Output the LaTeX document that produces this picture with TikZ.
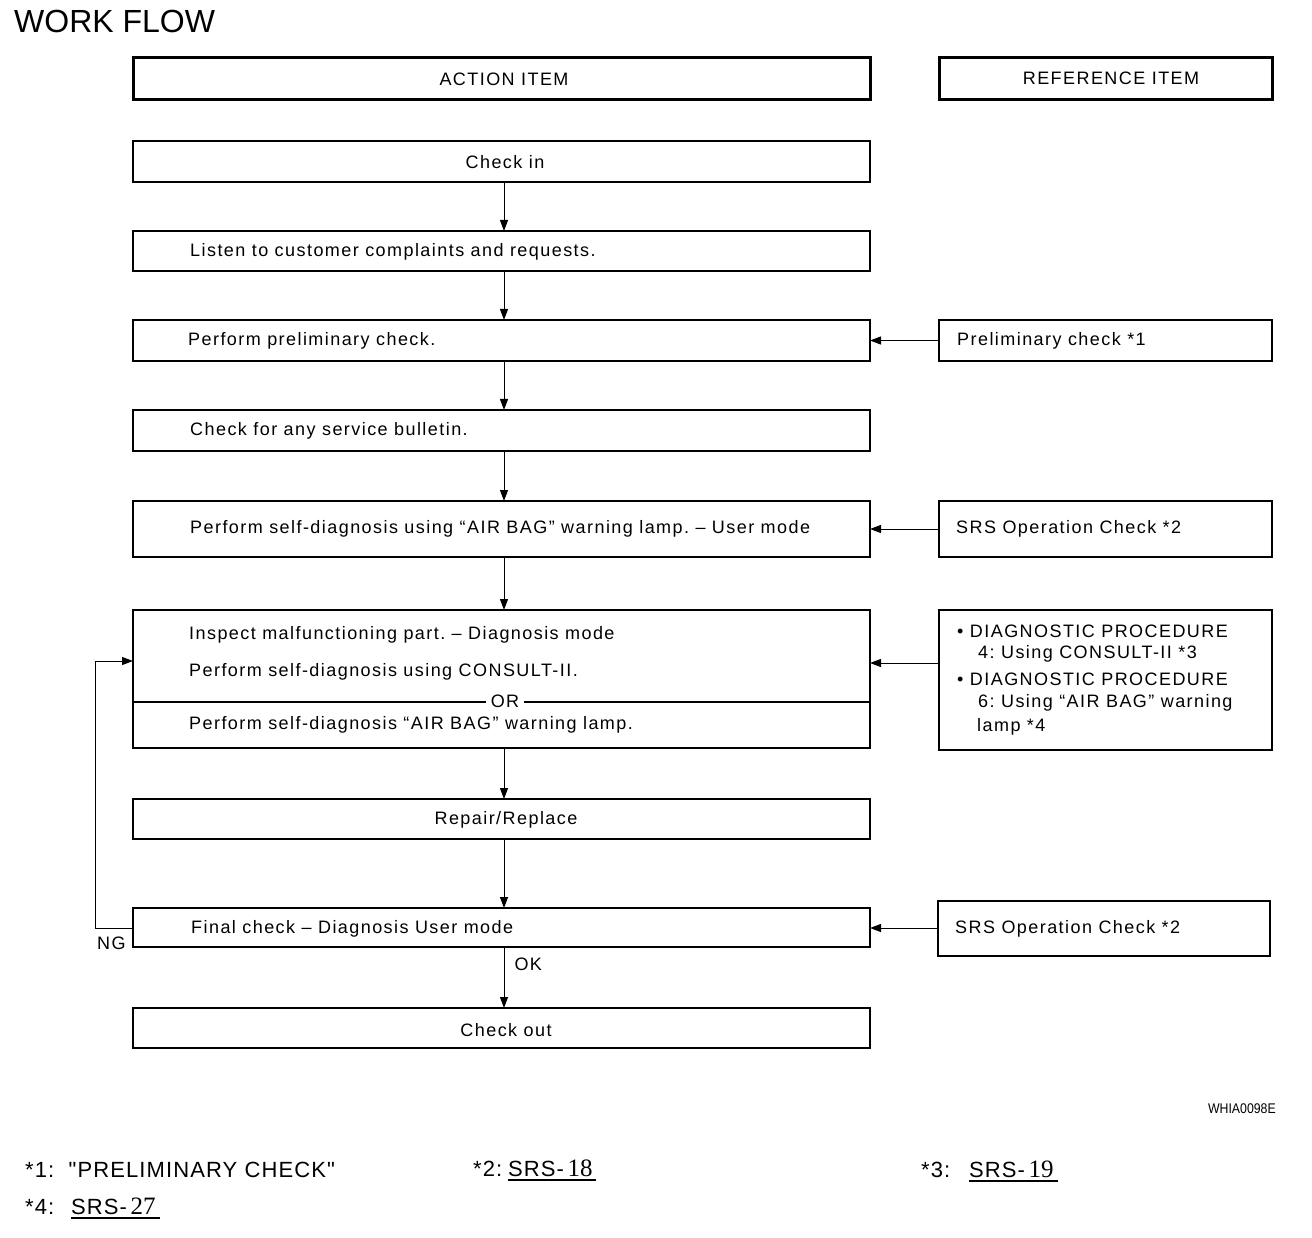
\documentclass[tikz,border=0pt]{standalone}
\usepackage{fontspec}
\setmainfont{Liberation Sans}
\newfontfamily\boxf[LetterSpace=8]{Liberation Sans}
\newfontfamily\footf[LetterSpace=5]{Liberation Sans}
\newfontfamily\narrowf[FakeStretch=0.88]{Liberation Sans}
\newfontfamily\serf{Liberation Serif}
\usetikzlibrary{arrows.meta}
\frenchspacing
\begin{document}
\begin{tikzpicture}[x=1pt,y=-1pt,
  abox/.style={draw, line width=1.5pt, minimum width=737pt, anchor=north west, inner sep=0pt, outer sep=0pt},
  rbox/.style={draw, line width=1.5pt, minimum width=333pt, anchor=north west, inner sep=0pt, outer sep=0pt},
  hbox/.style={draw, line width=3pt, anchor=north west, inner sep=0pt, outer sep=0pt, minimum height=42pt},
  txt/.style={inner sep=0pt, font=\boxf\fontsize{18}{21}\selectfont},
  foot/.style={inner sep=0pt, font=\footf\fontsize{22}{26}\selectfont},
  arr/.style={line width=1pt, -{Triangle[length=11pt,width=8pt]}}
]
\useasboundingbox (0,0) rectangle (1312,1238);

% title
\node[inner sep=0pt, anchor=west, font=\fontsize{32}{36}\selectfont] (title) at (14,21) {WORK FLOW};

% headers
\node[hbox, minimum width=737pt] (hA) at (133,58) {};
\node[txt] (hAt) at (504,79) {ACTION ITEM};
\node[hbox, minimum width=333pt] (hR) at (939,58) {};
\node[txt] (hRt) at (1111,78) {REFERENCE ITEM};

% action boxes
\node[abox, minimum height=41pt] (b1) at (133,141) {};
\node[txt] (t1) at (505,162) {Check in};
\node[abox, minimum height=40pt] (b2) at (133,231) {};
\node[txt, anchor=west] (t2) at (190,252) {Listen to customer complaints and requests.};
\node[abox, minimum height=41pt] (b3) at (133,320) {};
\node[txt, anchor=west] (t3) at (188,341) {Perform preliminary check.};
\node[abox, minimum height=41pt] (b4) at (133,410) {};
\node[txt, anchor=west] (t4) at (190,431) {Check for any service bulletin.};
\node[abox, minimum height=56pt] (b5) at (133,501) {};
\node[txt, anchor=west] (t5) at (190,529) {Perform self-diagnosis using “AIR BAG” warning lamp. – User mode};
\node[abox, minimum height=138pt] (b6) at (133,610) {};
\node[txt, anchor=west] (t6a) at (189,635) {Inspect malfunctioning part. – Diagnosis mode};
\node[txt, anchor=west] (t6b) at (189,672) {Perform self-diagnosis using CONSULT-II.};
\draw[line width=1.5pt] (b6.west |- 0,702) -- (b6.east |- 0,702);
\node[txt, fill=white, inner xsep=5pt] (t6or) at (505,701) {OR};
\node[txt, anchor=west] (t6c) at (189,725) {Perform self-diagnosis “AIR BAG” warning lamp.};
\node[abox, minimum height=40pt] (b7) at (133,799) {};
\node[txt] (t7) at (506,820) {Repair/Replace};
\node[abox, minimum height=39pt] (b8) at (133,908) {};
\node[txt, anchor=west] (t8) at (191,929) {Final check – Diagnosis User mode};
\node[abox, minimum height=40pt] (b9) at (133,1008) {};
\node[txt] (t9) at (506,1030) {Check out};

% reference boxes
\node[rbox, minimum height=41pt] (r1) at (939,320) {};
\node[txt, anchor=west] (s1) at (957,341) {Preliminary check *1};
\node[rbox, minimum height=56pt] (r2) at (939,501) {};
\node[txt, anchor=west] (s2) at (956,529) {SRS Operation Check *2};
\node[rbox, minimum height=140pt] (r3) at (939,610) {};
\node[txt, anchor=west] (s3a) at (957,631) {• DIAGNOSTIC PROCEDURE};
\node[txt, anchor=west] (s3b) at (978,654) {4: Using CONSULT-II *3};
\node[txt, anchor=west] (s3c) at (957,679) {• DIAGNOSTIC PROCEDURE};
\node[txt, anchor=west] (s3d) at (978,703) {6: Using “AIR BAG” warning};
\node[txt, anchor=west] (s3e) at (977,727) {lamp *4};
\node[rbox, minimum width=332pt, minimum height=55pt] (r4) at (938,901) {};
\node[txt, anchor=west] (s4) at (955,929) {SRS Operation Check *2};

% vertical arrows
\draw[arr] (b1.south -| 504,0) -- (b2.north -| 504,0);
\draw[arr] (b2.south -| 504,0) -- (b3.north -| 504,0);
\draw[arr] (b3.south -| 504,0) -- (b4.north -| 504,0);
\draw[arr] (b4.south -| 504,0) -- (b5.north -| 504,0);
\draw[arr] (b5.south -| 504,0) -- (b6.north -| 504,0);
\draw[arr] (b6.south -| 504,0) -- (b7.north -| 504,0);
\draw[arr] (b7.south -| 504,0) -- (b8.north -| 504,0);
\draw[arr] (b8.south -| 504,0) -- node[txt, pos=0.28, anchor=west, xshift=10pt] (ok) {OK} (b9.north -| 504,0);

% horizontal arrows
\draw[arr] (r1.west) -- (b3.east);
\draw[arr] (r2.west) -- (b5.east);
\draw[arr] (r3.west |- 0,663) -- (b6.east |- 0,663);
\draw[arr] (r4.west |- 0,928) -- (b8.east |- 0,928);

% NG loop
\draw[arr] (b8.west |- 0,928) -- (95,928) |- (b6.west |- 0,661);
\node[txt, anchor=west] (ng) at (97,943) {NG};

% code
\node[inner sep=0pt, anchor=east, font=\narrowf\fontsize{14}{16}\selectfont] (code) at (1276,1109) {WHIA0098E};

% footnotes
\node[foot, anchor=base west] (f1) at (25,1177) {*1:\ \ "PRELIMINARY CHECK"};
\node[foot, anchor=base west] (f2) at (473,1176) {*2:};
\node[foot, anchor=base west] (f2s) at (508,1176) {SRS-\,{\serf\fontsize{25}{28}\selectfont 18}};
\node[foot, anchor=base west] (f3) at (921,1177) {*3:};
\node[foot, anchor=base west] (f3s) at (969,1177) {SRS-\,{\serf\fontsize{25}{28}\selectfont 19}};
\node[foot, anchor=base west] (f4) at (25,1214) {*4:};
\node[foot, anchor=base west] (f4s) at (71,1214) {SRS-\,{\serf\fontsize{25}{28}\selectfont 27}};
\draw[line width=2pt] (f2s.base west) ++(0,4) -- ++(88,0);
\draw[line width=2pt] (f3s.base west) ++(0,4) -- ++(89,0);
\draw[line width=2pt] (f4s.base west) ++(0,4) -- ++(89,0);
\end{tikzpicture}
\end{document}
